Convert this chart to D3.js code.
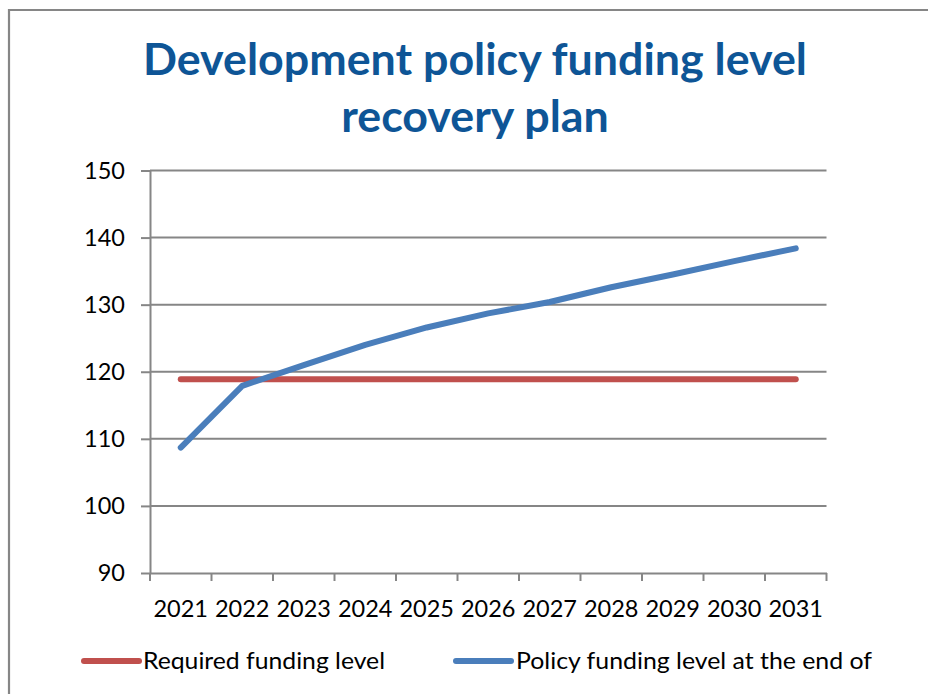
<!DOCTYPE html>
<html>
<head>
<meta charset="utf-8">
<script src="https://cdn.jsdelivr.net/npm/d3@7"></script>
<style>
  html, body { margin: 0; padding: 0; background: #fff; }
  svg { display: block; font-family: Lato, "Open Sans", sans-serif; }
</style>
</head>
<body>
<svg id="chart" width="928" height="694"></svg>
<script>
const titleLines = ["Development policy funding level", "recovery plan"];
const years = ["2021","2022","2023","2024","2025","2026","2027","2028","2029","2030","2031"];
const requiredLevel = [118.9,118.9,118.9,118.9,118.9,118.9,118.9,118.9,118.9,118.9,118.9];
const policyLevel = [108.7,117.9,121.0,124.0,126.6,128.7,130.4,132.6,134.5,136.5,138.4];
const yTicks = [90,100,110,120,130,140,150];
const seriesNames = ["Required funding level", "Policy funding level at the end of"];
const seriesColors = ["#C0504D", "#4A7EBB"];

const svg = d3.select("#chart");
const gridColor = "#868686";

// outer border (top + left visible)
svg.append("path")
  .attr("d", d3.line()([[9, 700], [9, 10], [930, 10]]))
  .attr("fill", "none").attr("stroke", gridColor).attr("stroke-width", 2.2);

// title
const titleBase = [75, 131.5];
const titleG = svg.append("g");
titleLines.forEach((t, i) => {
  titleG.append("text")
    .attr("x", 475).attr("y", titleBase[i])
    .attr("text-anchor", "middle")
    .attr("font-weight", "bold")
    .attr("font-size", 35)
    .attr("fill", "#0E5596")
    .text(t);
});
{
  const w = titleG.select("text").node().getComputedTextLength();
  titleG.selectAll("text").attr("font-size", 35 * 664 / w);
}

const x = d3.scaleBand().domain(years).range([150, 826.5]).padding(0);
const y = d3.scaleLinear().domain([90, 150]).range([573, 170.5]);

// gridlines
svg.append("g").selectAll("line").data(yTicks.slice(1)).join("line")
  .attr("x1", 150).attr("x2", 826.5)
  .attr("y1", d => y(d)).attr("y2", d => y(d))
  .attr("stroke", gridColor).attr("stroke-width", 2);

// y axis
const yAxis = svg.append("g").attr("transform", "translate(150,0)")
  .call(d3.axisLeft(y).tickValues(yTicks).tickSize(9).tickPadding(16).tickSizeOuter(0));
yAxis.select(".domain").attr("stroke", gridColor).attr("stroke-width", 2);
yAxis.selectAll(".tick line").attr("stroke", gridColor).attr("stroke-width", 2);
yAxis.selectAll("text").attr("font-size", 23.5).attr("fill", "#000")
  .attr("font-family", "Lato, sans-serif");

// x axis
const xAxis = svg.append("g").attr("transform", "translate(0,573)")
  .call(d3.axisBottom(x).tickSize(0).tickPadding(27).tickSizeOuter(0));
xAxis.select(".domain").attr("stroke", gridColor).attr("stroke-width", 2);
xAxis.selectAll("text").attr("font-size", 23.5).attr("fill", "#000")
  .attr("font-family", "Lato, sans-serif");
const edges = years.map(d => x(d)).concat([x(years[years.length - 1]) + x.bandwidth()]);
xAxis.append("g").selectAll("line").data(edges).join("line")
  .attr("x1", d => d).attr("x2", d => d).attr("y1", 0).attr("y2", 8)
  .attr("stroke", gridColor).attr("stroke-width", 2);

// lines
const line = d3.line()
  .x((d, i) => x(years[i]) + x.bandwidth() / 2)
  .y(d => y(d));
[requiredLevel, policyLevel].forEach((s, i) => {
  svg.append("path").datum(s)
    .attr("d", line)
    .attr("fill", "none")
    .attr("stroke", seriesColors[i])
    .attr("stroke-width", 6)
    .attr("stroke-linecap", "round")
    .attr("stroke-linejoin", "round");
});

// legend
const legendPos = [[84, 139, 143, 242], [456, 511, 516, 356]];
seriesNames.forEach((n, i) => {
  const [x1, x2, tx, tw] = legendPos[i];
  svg.append("line").attr("x1", x1).attr("x2", x2).attr("y1", 661).attr("y2", 661)
    .attr("stroke", seriesColors[i]).attr("stroke-width", 6).attr("stroke-linecap", "round");
  svg.append("text").attr("x", tx).attr("y", 669)
    .attr("font-size", 23).attr("fill", "#000")
    .attr("textLength", tw).attr("lengthAdjust", "spacingAndGlyphs")
    .text(n);
});
</script>
</body>
</html>
